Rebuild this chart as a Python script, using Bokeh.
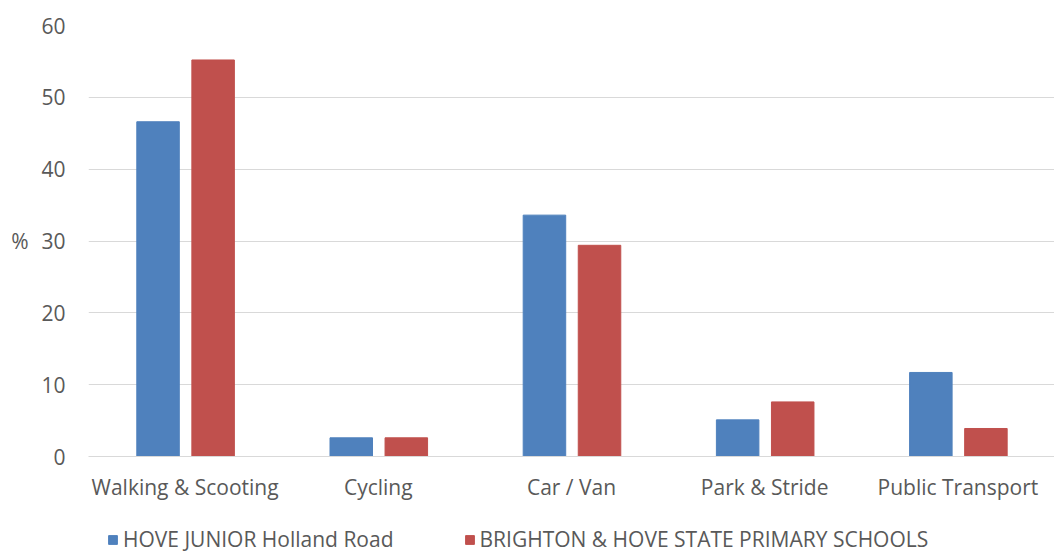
from bokeh.plotting import figure
from bokeh.models import ColumnDataSource, Legend, LegendItem, FactorRange
from bokeh.layouts import column
from bokeh.transform import dodge
from bokeh.embed import file_html
from bokeh.resources import INLINE

categories = ["Walking & Scooting", "Cycling", "Car / Van", "Park & Stride", "Public Transport"]
hove_junior = [46.6, 2.6, 33.6, 5.1, 11.7]
brighton_hove = [55.2, 2.6, 29.4, 7.6, 3.9]
series_names = ["HOVE JUNIOR Holland Road", "BRIGHTON & HOVE STATE PRIMARY SCHOOLS"]
y_ticks = [0, 10, 20, 30, 40, 50, 60]

FONT = "Open Sans"
GREY = "#595959"
FS = "21px"
BLUE = "#4F81BD"
RED = "#C0504D"

src = ColumnDataSource(dict(cat=categories, a=hove_junior, b=brighton_hove))

p = figure(x_range=FactorRange(*categories, range_padding=0), y_range=(0, 60),
           width=1054, height=506,
           output_backend="svg", toolbar_location=None,
           min_border_left=88, min_border_right=0, min_border_top=25, min_border_bottom=50)
p.outline_line_color = None

p.vbar(x=dodge("cat", -0.14, range=p.x_range), top="a", width=0.22, source=src,
       fill_color=BLUE, line_color=BLUE)
p.vbar(x=dodge("cat", 0.145, range=p.x_range), top="b", width=0.22, source=src,
       fill_color=RED, line_color=RED)

p.yaxis.ticker = y_ticks
p.ygrid.grid_line_color = "#d9d9d9"
p.xgrid.grid_line_color = None
p.yaxis.axis_line_color = None
p.yaxis.major_tick_line_color = None
p.yaxis.major_tick_out = 0
p.yaxis.minor_tick_line_color = None
p.yaxis.minor_tick_out = 0
p.yaxis.major_label_text_font = FONT
p.yaxis.major_label_text_font_size = FS
p.yaxis.major_label_text_color = GREY
p.yaxis.major_label_standoff = 23
p.yaxis.axis_label = "%"
p.yaxis.axis_label_orientation = "horizontal"
p.yaxis.axis_label_text_font = FONT
p.yaxis.axis_label_text_font_size = FS
p.yaxis.axis_label_text_font_style = "normal"
p.yaxis.axis_label_text_color = GREY
p.yaxis.axis_label_standoff = 10

p.xaxis.axis_line_color = "#d9d9d9"
p.xaxis.major_tick_line_color = None
p.xaxis.major_tick_out = 0
p.xaxis.minor_tick_line_color = None
p.xaxis.minor_tick_out = 0
p.xaxis.major_label_text_font = FONT
p.xaxis.major_label_text_font_size = FS
p.xaxis.major_label_text_color = GREY
p.xaxis.major_label_standoff = 16

# legend strip below the chart
p2 = figure(width=1054, height=47, x_range=(0, 1), y_range=(0, 1),
            output_backend="svg", toolbar_location=None,
            x_axis_location=None, y_axis_location=None,
            min_border=0, min_border_left=0, min_border_right=0,
            min_border_top=0, min_border_bottom=0)
p2.outline_line_color = None
p2.xgrid.visible = False
p2.ygrid.visible = False
# legend-only proxies, placed outside the visible range
d1 = p2.vbar(x=[-10], top=[-10], width=0.1, fill_color=BLUE, line_color=BLUE)
d2 = p2.vbar(x=[-10], top=[-10], width=0.1, fill_color=RED, line_color=RED)

legend = Legend(items=[LegendItem(label=series_names[0], renderers=[d1]),
                       LegendItem(label=series_names[1], renderers=[d2])],
                orientation="horizontal", location=(19, 0),
                label_text_font=FONT, label_text_font_size=FS, label_text_color=GREY,
                glyph_width=11, glyph_height=11, label_standoff=5, spacing=70,
                border_line_color=None, background_fill_alpha=0, margin=0, padding=0)
p2.add_layout(legend, "center")

layout = column(p, p2, spacing=0)
open("out.html", "w").write(file_html(layout, INLINE))
